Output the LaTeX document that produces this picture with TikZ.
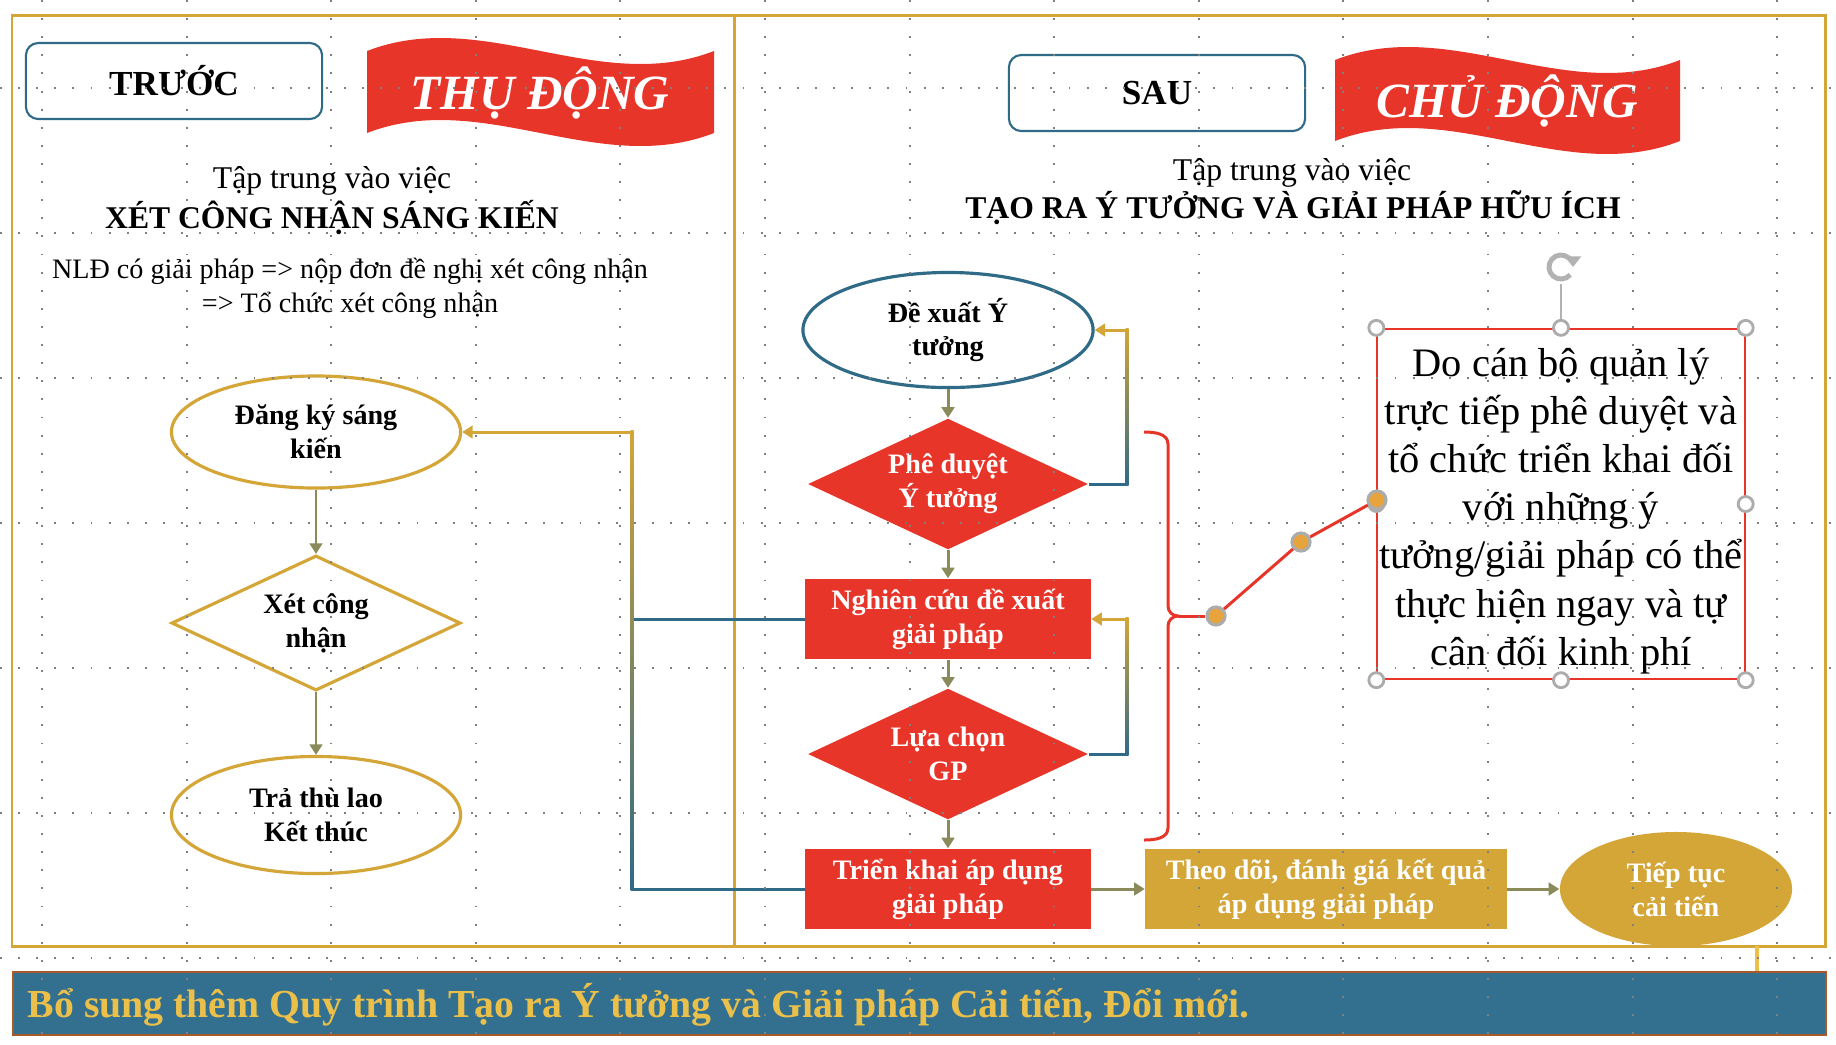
\documentclass[tikz,border=0pt]{standalone}
\usepackage{fontspec}
\setmainfont{Liberation Serif}
\usetikzlibrary{positioning,arrows.meta,shapes.geometric,calc}

\definecolor{cgold}{HTML}{D4A537}
\definecolor{cgoldtxt}{HTML}{EABF4A}
\definecolor{cred}{HTML}{E8352A}
\definecolor{cblue}{HTML}{2F6A87}
\definecolor{cband}{HTML}{33708F}
\definecolor{cbrown}{HTML}{A85A2A}
\definecolor{cdot}{HTML}{E8A43C}
\colorlet{carrow}{cblue!45!cgold}

\begin{document}
\begin{tikzpicture}[x=0.01cm,y=-0.01cm,
    fs/.style={font=\fontsize{8}{9.6}\selectfont\bfseries,align=center,inner sep=0pt},
    goldell/.style={fs,ellipse,draw=cgold,line width=0.9pt,fill=white,minimum width=2.89cm},
    blueell/.style={fs,ellipse,draw=cblue,line width=0.9pt,fill=white,minimum width=2.90cm,minimum height=1.15cm},
    golddia/.style={fs,diamond,shape aspect=2.1,draw=cgold,line width=0.9pt,fill=white,minimum width=2.89cm,minimum height=1.35cm},
    reddia/.style={fs,diamond,shape aspect=2.1,fill=cred,text=white,minimum width=2.80cm,minimum height=1.31cm},
    redbox/.style={fs,rectangle,fill=cred,text=white,minimum width=2.85cm,minimum height=0.80cm},
    goldbox/.style={fs,rectangle,fill=cgold,text=white,minimum width=3.61cm,minimum height=0.80cm},
    goldfill/.style={fs,ellipse,fill=cgold,text=white,minimum width=2.32cm,minimum height=1.14cm},
    tagbox/.style={draw=cblue,line width=0.6pt,rounded corners=3.5pt,minimum width=2.96cm,minimum height=0.76cm,
      font=\fontsize{10}{12}\selectfont\bfseries},
    flagtxt/.style={text=white,inner sep=0pt,font=\fontsize{14}{16}\selectfont\bfseries\itshape},
    headtxt/.style={anchor=base,inner sep=0pt,font=\fontsize{9}{11}\selectfont},
    goldframe/.style={draw=cgold,line width=0.85pt},
    wire/.style={line width=0.85pt},
    arr/.style={wire,carrow,-{Triangle[length=3pt,width=3.6pt]}},
    hdl/.style={circle,draw=gray!65,fill=white,line width=0.8pt,minimum size=0.15cm,inner sep=0pt},
    hdot/.style={circle,draw=gray!65,fill=cdot,line width=0.9pt,minimum size=0.18cm,inner sep=0pt},
    dotgrid/.style={black!50,line width=0.55pt,dash pattern=on 0.55pt off 4.6pt}]
  \useasboundingbox (0,0) rectangle (1836,1044);
  \fill[white] (0,0) rectangle (1836,1044);

  % frames
  \draw[goldframe] (12,15) rectangle (734,946);
  \draw[goldframe] (734,15) rectangle (1825,946);

  % TRUOC side header
  \node[tagbox] (truoc) at (174,81) {TRƯỚC};
  \fill[cred] (367,51) .. controls (482.7,6) and (598.3,96) .. (714,51) -- (714,133)
    .. controls (598.3,178) and (482.7,88) .. (367,133) -- cycle;
  \node[flagtxt] (thudong) at (540,93) {THỤ ĐỘNG};
  \node[headtxt] (tt1) at (332,188) {Tập trung vào việc};
  \node[headtxt,font=\fontsize{9}{11}\selectfont\bfseries] (xcn) at (332,228) {XÉT CÔNG NHẬN SÁNG KIẾN};
  \node[headtxt,font=\fontsize{8}{10}\selectfont] (nld1) at (350,278) {NLĐ có giải pháp => nộp đơn đề nghị xét công nhận};
  \node[headtxt,font=\fontsize{8}{10}\selectfont] (nld2) at (350,312) {=> Tổ chức xét công nhận};

  % SAU side header
  \node[tagbox] (sau) at (1157,93) {SAU};
  \fill[cred] (1335,60) .. controls (1450,15) and (1565,105) .. (1680,60) -- (1680,141)
    .. controls (1565,186) and (1450,96) .. (1335,141) -- cycle;
  \node[flagtxt] (chudong) at (1507,101) {CHỦ ĐỘNG};
  \node[headtxt] (tt2) at (1292,180) {Tập trung vào việc};
  \node[headtxt,font=\fontsize{9}{11}\selectfont\bfseries] (tyt) at (1293,218) {TẠO RA Ý TƯỞNG VÀ GIẢI PHÁP HỮU ÍCH};

  % old flow
  \node[goldell,minimum height=1.12cm] (dangky) at (316,432) {Đăng ký sáng\\kiến};
  \node[golddia] (xetcn) at (316,623) {Xét công\\nhận};
  \node[goldell,minimum height=1.17cm] (trathu) at (316,815) {Trả thù lao\\Kết thúc};
  \draw[arr] (dangky) -- (xetcn);
  \draw[arr] (xetcn) -- (trathu);

  % new flow
  \node[blueell] (dexuat) at (948,330) {Đề xuất Ý\\tưởng};
  \node[reddia] (pheduyet) at (948,484) {Phê duyệt\\Ý tưởng};
  \node[redbox] (nghiencuu) at (948,619) {Nghiên cứu đề xuất\\giải pháp};
  \node[reddia] (luachon) at (948,754) {Lựa chọn\\GP};
  \node[redbox] (trienkhai) at (948,889) {Triển khai áp dụng\\giải pháp};
  \node[goldbox] (theodoi) at (1326,889) {Theo dõi, đánh giá kết quả\\áp dụng giải pháp};
  \node[goldfill] (tieptuc) at (1676,889) {Tiếp tục\\cải tiến};
  \draw[arr] (dexuat) -- (pheduyet);
  \draw[arr] (pheduyet) -- (nghiencuu);
  \draw[arr] (nghiencuu) -- (luachon);
  \draw[arr] (luachon) -- (trienkhai);
  \draw[arr] (trienkhai) -- (theodoi);
  \draw[arr] (theodoi) -- (tieptuc);
  \draw[cgoldtxt,line width=1.3pt] (1757,946) -- (1757,971);

  % loops back
  \coordinate (lp1b) at (1127,484);
  \coordinate (lp1t) at (1127,330);
  \coordinate (lp2b) at (1127,754);
  \coordinate (lp2t) at (1127,619);
  \draw[wire,cblue] (pheduyet.east) -- (lp1b);
  \shade[top color=cgold,bottom color=cblue] ($(lp1t)+(-1.5,-1.5)$) rectangle ($(lp1b)+(1.5,1.5)$);
  \draw[wire,cgold,-{Triangle[length=3pt,width=3.6pt]}] (lp1t) -- (dexuat.east);
  \draw[wire,cblue] (luachon.east) -- (lp2b);
  \shade[top color=cgold,bottom color=cblue] ($(lp2t)+(-1.5,-1.5)$) rectangle ($(lp2b)+(1.5,1.5)$);
  \draw[wire,cgold,-{Triangle[length=3pt,width=3.6pt]}] (lp2t) -- (nghiencuu.east);

  % link to old flow
  \coordinate (lc1) at (632,432);
  \coordinate (lc2) at (632,619);
  \coordinate (lc3) at (632,889);
  \draw[wire,cblue] (nghiencuu.west) -- (lc2);
  \draw[wire,cblue] (trienkhai.west) -- (lc3);
  \shade[top color=cgold,bottom color=cblue] ($(lc1)+(-1.5,-1.5)$) rectangle ($(lc3)+(1.5,1.5)$);
  \draw[wire,cgold,-{Triangle[length=3pt,width=3.6pt]}] (lc1) -- (dangky.east);

  % brace and note
  \coordinate (btip) at (1178,616);
  \draw[cred,line width=0.85pt] (1144,432) to[out=0,in=90] (1168,444) -- (1168,606)
    to[out=-90,in=180] (btip) to[out=180,in=90] (1168,626) -- (1168,828) to[out=-90,in=0] (1144,840);
  \node[draw=cred,line width=0.6pt,minimum width=3.67cm,minimum height=3.50cm,inner sep=0pt] (note) at (1561,504) {};
  \node[align=center,inner sep=0pt,font=\fontsize{11.5}{13.7}\selectfont] (notetxt) at (1561,511)
    {Do cán bộ quản lý\\trực tiếp phê duyệt và\\tổ chức triển khai đối\\với những ý\\tưởng/giải pháp có thể\\thực hiện ngay và tự\\cân đối kinh phí};
  \coordinate (rotc) at (1561,267);
  \draw[gray!60,line width=0.7pt] (rotc) ++(0,17) -- (note.north);
  \draw[gray!60,line width=1.4pt,-{Triangle[length=3pt,width=4.5pt]}] (rotc) ++(320:0.12cm)
    arc[start angle=320,end angle=0,radius=0.12cm];
  \foreach \a in {north west,north,north east,east,south west,south,south east,west}
    \node[hdl] at (note.\a) {};
  \node[hdot] (d1) at (1216,616) {};
  \node[hdot] (d2) at (1301,542) {};
  \node[hdot] (d3) at (1377,500) {};
  \draw[cred,line width=0.85pt] (btip) -- (d1);
  \draw[cred,line width=0.85pt] (d1) -- (d2);
  \draw[cred,line width=0.85pt] (d2) -- (d3);

  % banner
  \node[fill=cband,draw=cbrown,line width=0.6pt,anchor=north west,minimum width=18.12cm,minimum height=0.63cm,
    inner sep=0pt] (band) at (12,971) {};
  \node[anchor=base west,inner sep=0pt,text=cgoldtxt,font=\fontsize{11.3}{13}\selectfont\bfseries] (bantxt) at (27,1017)
    {Bổ sung thêm Quy trình Tạo ra Ý tưởng và Giải pháp Cải tiến, Đổi mới.};

  % grid dots
  \foreach \k in {0,...,6}
    \draw[dotgrid] (0,88+145*\k) -- (1836,88+145*\k);
  \foreach \k in {0,...,12}
    \draw[dotgrid] (42+144.6*\k,0) -- (42+144.6*\k,1044);
\end{tikzpicture}
\end{document}
